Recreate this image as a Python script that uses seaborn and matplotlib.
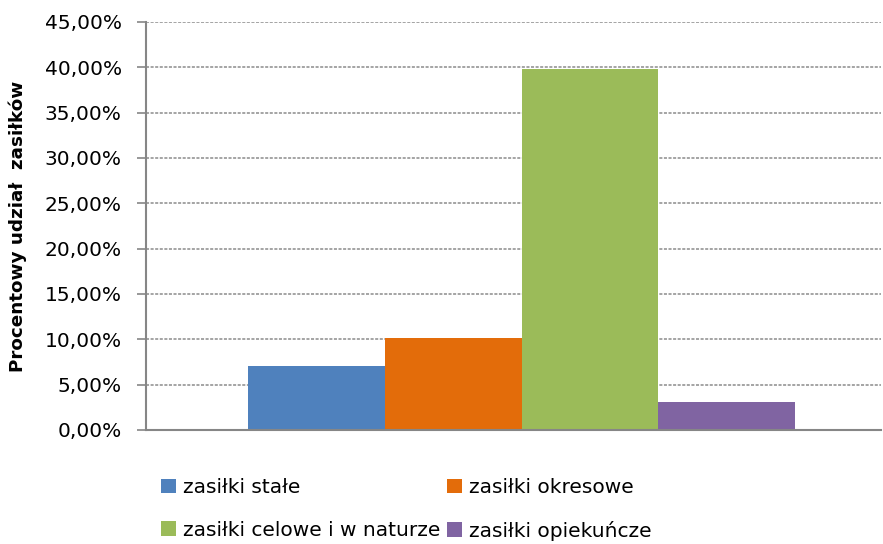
import pandas as pd
import matplotlib.pyplot as plt
import seaborn as sns
from matplotlib.ticker import FuncFormatter
from matplotlib.patches import Patch

# Data
types = ["zasiłki stałe", "zasiłki okresowe", "zasiłki celowe i w naturze", "zasiłki opiekuńcze"]
shares = [7.06, 10.15, 39.8, 3.09]
colors = ["#4F81BD", "#E36C0A", "#9BBB59", "#8064A2"]

df = pd.DataFrame({"grupa": [""] * len(types), "rodzaj": types, "udzial": shares})

sns.set_style("white")
plt.rcParams["font.family"] = ["DejaVu Sans"]
plt.rcParams["text.color"] = "black"
plt.rcParams["axes.labelcolor"] = "black"
plt.rcParams["ytick.labelcolor"] = "black"

fig = plt.figure(figsize=(8.83, 5.44), dpi=100)
ax = fig.add_axes([0.1653, 0.2096, 0.8324, 0.75])

sns.barplot(data=df, x="grupa", y="udzial", hue="rodzaj", hue_order=types,
            palette=colors, width=0.745, saturation=1, legend=False, ax=ax)
for p in ax.patches:
    p.set_edgecolor("none")

ax.set_ylim(0, 45)
ax.set_xlim(-0.511, 0.489)
ax.set_yticks(range(0, 46, 5))
ax.yaxis.set_major_formatter(FuncFormatter(lambda v, _: f"{v:.2f}".replace(".", ",") + "%"))
ax.tick_params(axis="y", labelsize=14.5, length=6.5, width=1.2, color="#868686", direction="out",
               left=True, pad=11, labelcolor="black")
ax.tick_params(axis="x", bottom=False, labelbottom=False)
ax.set_xlabel("")
ax.set_ylabel("Procentowy udział  zasiłków", fontsize=13.2, fontweight="bold")
ax.yaxis.set_label_coords(-0.162, 0.5)

ax.grid(axis="y", color="#8c8c8c", linestyle=(0, (2, 1)), linewidth=1.1)
ax.set_axisbelow(True)
for s in ["top", "right"]:
    ax.spines[s].set_visible(False)
for s in ["left", "bottom"]:
    ax.spines[s].set_color("#868686")
    ax.spines[s].set_linewidth(1.5)

# legend filled row by row: reorder for column-major layout
order = [0, 2, 1, 3]
handles = [Patch(facecolor=colors[i], edgecolor="none") for i in order]
labels = [types[i] for i in order]
fig.legend(handles, labels, loc="lower left", bbox_to_anchor=(0.162, -0.027), ncol=2,
           frameon=False, fontsize=14.5, handlelength=0.75, handleheight=0.75,
           handletextpad=0.33, columnspacing=0.35, labelspacing=1.17)

fig.savefig("out.png", dpi=100)
